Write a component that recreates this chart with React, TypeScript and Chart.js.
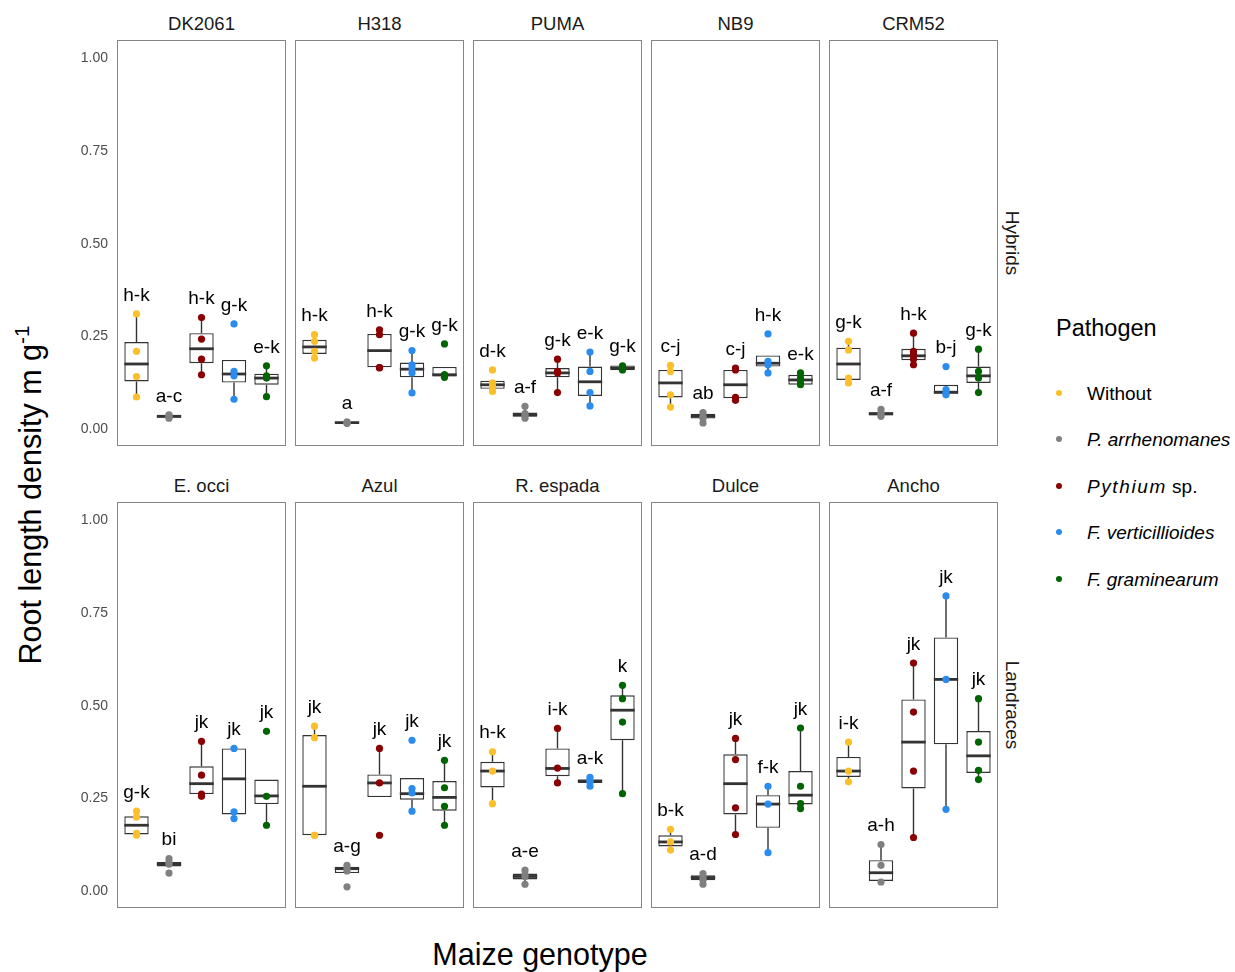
import React, { useEffect, useRef } from "react";
import { Chart, registerables } from "chart.js";

Chart.register(...registerables);

// ---- data -------------------------------------------------------------
const genotypes = ["DK2061", "H318", "PUMA", "NB9", "CRM52", "E. occi", "Azul", "R. espada", "Dulce", "Ancho"];
const groups = ["Hybrids", "Landraces"];
const pathogens = ["Without", "P. arrhenomanes", "Pythium sp.", "F. verticillioides", "F. graminearum"];
const pathogenColors = ["#FBBF2A", "#808080", "#8B0000", "#2B8CEE", "#006400"];
const yTickValues = [0, 0.25, 0.5, 0.75, 1];

// Box statistics: one row per genotype, one column per pathogen
const whiskerLow = [
  [0.087, 0.030, 0.147, 0.081, 0.088],
  [0.192, 0.016, 0.166, 0.098, 0.142],
  [0.102, 0.030, 0.099, 0.063, 0.160],
  [0.060, 0.017, 0.078, 0.152, 0.120],
  [0.125, 0.035, 0.174, 0.093, 0.099],
  [0.151, 0.067, 0.256, 0.196, 0.178],
  [0.151, 0.049, 0.254, 0.216, 0.178],
  [0.236, 0.019, 0.292, 0.283, 0.263],
  [0.111, 0.019, 0.153, 0.104, 0.223],
  [0.295, 0.025, 0.145, 0.221, 0.301],
];
const quartile1 = [
  [0.129, 0.031, 0.178, 0.126, 0.120],
  [0.203, 0.016, 0.167, 0.140, 0.142],
  [0.109, 0.034, 0.140, 0.090, 0.159],
  [0.086, 0.029, 0.084, 0.169, 0.120],
  [0.133, 0.037, 0.186, 0.096, 0.125],
  [0.153, 0.067, 0.262, 0.207, 0.235],
  [0.151, 0.049, 0.254, 0.247, 0.217],
  [0.280, 0.032, 0.310, 0.292, 0.407],
  [0.121, 0.030, 0.207, 0.171, 0.234],
  [0.308, 0.028, 0.277, 0.396, 0.319],
];
const medians = [
  [0.176, 0.035, 0.217, 0.149, 0.138],
  [0.222, 0.018, 0.212, 0.162, 0.147],
  [0.120, 0.039, 0.152, 0.128, 0.165],
  [0.125, 0.035, 0.120, 0.178, 0.133],
  [0.176, 0.042, 0.198, 0.100, 0.144],
  [0.178, 0.073, 0.290, 0.303, 0.257],
  [0.283, 0.061, 0.292, 0.263, 0.253],
  [0.324, 0.040, 0.331, 0.297, 0.488],
  [0.133, 0.037, 0.290, 0.235, 0.259],
  [0.324, 0.050, 0.402, 0.571, 0.365],
];
const quartile3 = [
  [0.235, 0.038, 0.259, 0.187, 0.150],
  [0.241, 0.020, 0.257, 0.180, 0.168],
  [0.131, 0.045, 0.165, 0.169, 0.172],
  [0.160, 0.042, 0.160, 0.199, 0.147],
  [0.220, 0.046, 0.217, 0.120, 0.169],
  [0.202, 0.079, 0.337, 0.385, 0.301],
  [0.421, 0.066, 0.315, 0.305, 0.297],
  [0.349, 0.048, 0.385, 0.301, 0.528],
  [0.151, 0.043, 0.369, 0.259, 0.324],
  [0.362, 0.084, 0.517, 0.684, 0.432],
];
const whiskerHigh = [
  [0.311, 0.039, 0.301, 0.187, 0.171],
  [0.255, 0.020, 0.268, 0.212, 0.168],
  [0.131, 0.062, 0.189, 0.208, 0.172],
  [0.172, 0.045, 0.165, 0.199, 0.152],
  [0.237, 0.054, 0.259, 0.120, 0.216],
  [0.216, 0.088, 0.404, 0.385, 0.301],
  [0.445, 0.070, 0.385, 0.305, 0.353],
  [0.376, 0.057, 0.439, 0.307, 0.555],
  [0.167, 0.048, 0.412, 0.283, 0.440],
  [0.402, 0.126, 0.615, 0.796, 0.519],
];

// Individual replicate values
const observations: number[][][] = [
  [[0.311, 0.210, 0.142, 0.087], [0.039, 0.036, 0.034, 0.030], [0.301, 0.243, 0.189, 0.147], [0.284, 0.156, 0.144, 0.081], [0.171, 0.144, 0.138, 0.088]],
  [[0.255, 0.237, 0.210, 0.192], [0.020, 0.018, 0.017, 0.016], [0.268, 0.255, 0.166, 0.166], [0.212, 0.174, 0.165, 0.152, 0.098], [0.230, 0.147, 0.147, 0.140]],
  [[0.160, 0.125, 0.115, 0.102], [0.062, 0.042, 0.038, 0.030], [0.189, 0.156, 0.152, 0.099], [0.208, 0.156, 0.099, 0.063], [0.171, 0.167, 0.163, 0.160]],
  [[0.172, 0.156, 0.093, 0.060], [0.045, 0.035, 0.030, 0.017], [0.165, 0.160, 0.086, 0.078], [0.257, 0.183, 0.174, 0.152], [0.152, 0.138, 0.128, 0.120]],
  [[0.237, 0.214, 0.138, 0.125], [0.054, 0.044, 0.040, 0.035], [0.259, 0.210, 0.201, 0.189, 0.174], [0.169, 0.107, 0.097, 0.093], [0.216, 0.156, 0.138, 0.099]],
  [[0.216, 0.200, 0.156, 0.151], [0.088, 0.079, 0.073, 0.049], [0.404, 0.313, 0.262, 0.256], [0.385, 0.214, 0.196], [0.431, 0.256, 0.178]],
  [[0.445, 0.414, 0.151, 0.151], [0.070, 0.061, 0.055, 0.012], [0.385, 0.292, 0.151], [0.407, 0.277, 0.265, 0.216], [0.353, 0.279, 0.229, 0.178]],
  [[0.376, 0.324, 0.236], [0.057, 0.045, 0.040, 0.019], [0.439, 0.332, 0.292], [0.307, 0.298, 0.294, 0.283], [0.555, 0.519, 0.456, 0.263]],
  [[0.167, 0.133, 0.111], [0.048, 0.037, 0.030, 0.019], [0.412, 0.355, 0.225, 0.153], [0.283, 0.235, 0.104], [0.440, 0.283, 0.236, 0.223]],
  [[0.402, 0.324, 0.295], [0.126, 0.070, 0.025], [0.615, 0.483, 0.324, 0.145], [0.796, 0.571, 0.221], [0.519, 0.402, 0.326, 0.301]],
];

// Compact letter display from the mean comparison
const groupLetters = [
  ["h-k", "a-c", "h-k", "g-k", "e-k"],
  ["h-k", "a", "h-k", "g-k", "g-k"],
  ["d-k", "a-f", "g-k", "e-k", "g-k"],
  ["c-j", "ab", "c-j", "h-k", "e-k"],
  ["g-k", "a-f", "h-k", "b-j", "g-k"],
  ["g-k", "bi", "jk", "jk", "jk"],
  ["jk", "a-g", "jk", "jk", "jk"],
  ["h-k", "a-e", "i-k", "a-k", "k"],
  ["b-k", "a-d", "jk", "f-k", "jk"],
  ["i-k", "a-h", "jk", "jk", "jk"],
];

// ---- layout & style ---------------------------------------------------
const FONT = '"Liberation Sans", Arial, Helvetica, sans-serif';
const PANEL_W = 169;
const PANEL_H = 406;
const PANEL_LEFT0 = 117;
const PANEL_STEP = 178;
const ROW_TOPS = [40, 502];
const AXIS_W = 57;
const PAD = 24;
const BOX_COLOR = "#333333";
const FRAME_COLOR = "#858585";
const LABEL_GAP = 0.05;

function Panel({ index }: { index: number }) {
  const ref = useRef<HTMLCanvasElement | null>(null);
  const row = Math.floor(index / 5);
  const col = index % 5;
  const showY = col === 0;
  const left = PANEL_LEFT0 + col * PANEL_STEP - (showY ? AXIS_W : 0);
  const top = ROW_TOPS[row] - PAD;
  const width = PANEL_W + (showY ? AXIS_W : 0);
  const height = PANEL_H + 2 * PAD;

  useEffect(() => {
    const canvas = ref.current;
    if (!canvas) return;

    const boxPlugin = {
      id: "boxWhiskers",
      beforeDatasetsDraw(chart: any) {
        const { ctx, scales } = chart;
        const x = scales.x;
        const y = scales.y;
        ctx.save();
        ctx.strokeStyle = BOX_COLOR;
        ctx.lineWidth = 1.4;
        pathogens.forEach((_, j) => {
          const px = x.getPixelForValue(j + 1);
          ctx.beginPath();
          ctx.moveTo(px, y.getPixelForValue(quartile3[index][j]));
          ctx.lineTo(px, y.getPixelForValue(whiskerHigh[index][j]));
          ctx.moveTo(px, y.getPixelForValue(quartile1[index][j]));
          ctx.lineTo(px, y.getPixelForValue(whiskerLow[index][j]));
          ctx.stroke();
        });
        ctx.restore();
      },
      afterDatasetDraw(chart: any, args: any) {
        if (args.meta.type !== "bar") return;
        const { ctx, scales } = chart;
        const y = scales.y;
        ctx.save();
        ctx.strokeStyle = BOX_COLOR;
        ctx.lineWidth = 2.8;
        args.meta.data.forEach((bar: any, j: number) => {
          const py = y.getPixelForValue(medians[index][j]);
          ctx.beginPath();
          ctx.moveTo(bar.x - bar.width / 2, py);
          ctx.lineTo(bar.x + bar.width / 2, py);
          ctx.stroke();
        });
        ctx.restore();
      },
      afterDatasetsDraw(chart: any) {
        const { ctx, scales } = chart;
        const x = scales.x;
        const y = scales.y;
        ctx.save();
        ctx.fillStyle = "#000000";
        ctx.font = `19px ${FONT}`;
        ctx.textAlign = "center";
        ctx.textBaseline = "middle";
        pathogens.forEach((_, j) => {
          const top = Math.max(...observations[index][j], whiskerHigh[index][j]);
          ctx.fillText(groupLetters[index][j], x.getPixelForValue(j + 1), y.getPixelForValue(top + LABEL_GAP));
        });
        ctx.restore();
      },
      afterDraw(chart: any) {
        const { ctx, chartArea } = chart;
        ctx.save();
        ctx.strokeStyle = FRAME_COLOR;
        ctx.lineWidth = 1;
        ctx.strokeRect(
          Math.round(chartArea.left) + 0.5,
          Math.round(chartArea.top) + 0.5,
          Math.round(chartArea.right - chartArea.left) - 1,
          Math.round(chartArea.bottom - chartArea.top) - 1
        );
        ctx.restore();
      },
    };

    const datasets: any[] = [
      {
        type: "bar",
        data: pathogens.map((_, j) => ({ x: j + 1, y: [quartile1[index][j], quartile3[index][j]] })),
        backgroundColor: "#ffffff",
        borderColor: BOX_COLOR,
        borderWidth: 1.4,
        borderSkipped: false,
        barPercentage: 0.75,
        categoryPercentage: 1,
        order: 2,
      },
      ...pathogens.map((p, j) => ({
        type: "scatter",
        label: p,
        data: observations[index][j].map((v) => ({ x: j + 1, y: v })),
        backgroundColor: pathogenColors[j],
        borderWidth: 0,
        pointRadius: 3.6,
        order: 1,
      })),
    ];

    const chart = new Chart(canvas, {
      type: "bar",
      data: { datasets },
      plugins: [boxPlugin],
      options: {
        animation: false,
        responsive: false,
        events: [],
        layout: { autoPadding: false, padding: { top: PAD, bottom: PAD, left: 0, right: 0 } },
        plugins: { legend: { display: false }, tooltip: { enabled: false } },
        scales: {
          x: { type: "linear", min: 0.4, max: 5.6, offset: false, display: false },
          y: {
            type: "linear",
            min: -0.045,
            max: 1.049,
            display: showY,
            grid: { display: false, drawTicks: false },
            border: { display: false },
            afterBuildTicks: (s: any) => {
              s.ticks = yTickValues.map((value) => ({ value }));
            },
            afterFit: (s: any) => {
              if (showY) s.width = AXIS_W;
            },
            ticks: {
              color: "#4d4d4d",
              padding: 9,
              font: { family: FONT, size: 14 },
              callback: (v: any) => Number(v).toFixed(2),
            },
          },
        },
      } as any,
    });
    return () => chart.destroy();
  }, [index]);

  return (
    <canvas
      ref={ref}
      width={width}
      height={height}
      style={{ position: "absolute", left, top, width, height }}
    />
  );
}

const textBase: React.CSSProperties = {
  position: "absolute",
  fontFamily: FONT,
  lineHeight: 1,
  whiteSpace: "nowrap",
  color: "#000000",
};

const legendItemTops = [392.5, 439, 485.5, 532, 578.5];

function legendLabel(j: number) {
  if (j === 0) return <span>{pathogens[0]}</span>;
  if (j === 2)
    return (
      <span>
        <i style={{ letterSpacing: "1.6px" }}>Pythium</i> sp.
      </span>
    );
  return <i>{pathogens[j]}</i>;
}

export default function App() {
  return (
    <div
      style={{
        position: "absolute",
        left: 0,
        top: 0,
        width: 1235,
        height: 972,
        overflow: "hidden",
        background: "#ffffff",
      }}
    >
      {genotypes.map((g, i) => {
        const row = Math.floor(i / 5);
        const col = i % 5;
        return (
          <div
            key={`t-${g}`}
            style={{
              ...textBase,
              fontSize: 18.5,
              color: "#1a1a1a",
              left: PANEL_LEFT0 + col * PANEL_STEP + PANEL_W / 2,
              top: ROW_TOPS[row] - 16.5,
              transform: "translate(-50%, -50%)",
            }}
          >
            {g}
          </div>
        );
      })}
      {genotypes.map((g, i) => (
        <Panel key={`p-${g}`} index={i} />
      ))}
      {groups.map((name, r) => (
        <div
          key={name}
          style={{
            ...textBase,
            fontSize: 19,
            color: "#1a1a1a",
            left: 1012,
            top: ROW_TOPS[r] + PANEL_H / 2,
            transform: "translate(-50%, -50%) rotate(90deg)",
          }}
        >
          {name}
        </div>
      ))}
      <div
        style={{
          ...textBase,
          fontSize: 30.5,
          left: 30,
          top: 495,
          transform: "translate(-50%, -50%) rotate(-90deg)",
        }}
      >
        Root length density m g
        <span style={{ fontSize: "0.68em", position: "relative", top: "-0.6em" }}>-1</span>
      </div>
      <div
        style={{
          ...textBase,
          fontSize: 30.5,
          left: 540,
          top: 954,
          transform: "translate(-50%, -50%)",
        }}
      >
        Maize genotype
      </div>
      <div
        style={{
          ...textBase,
          fontSize: 23.5,
          left: 1056,
          top: 329,
          transform: "translateY(-50%)",
        }}
      >
        Pathogen
      </div>
      {pathogens.map((p, j) => (
        <React.Fragment key={p}>
          <div
            style={{
              position: "absolute",
              left: 1059.3 - 3,
              top: legendItemTops[j] - 3,
              width: 6,
              height: 6,
              borderRadius: "50%",
              background: pathogenColors[j],
            }}
          />
          <div
            style={{
              ...textBase,
              fontSize: 19,
              left: 1087,
              top: legendItemTops[j],
              transform: "translateY(-50%)",
            }}
          >
            {legendLabel(j)}
          </div>
        </React.Fragment>
      ))}
    </div>
  );
}
